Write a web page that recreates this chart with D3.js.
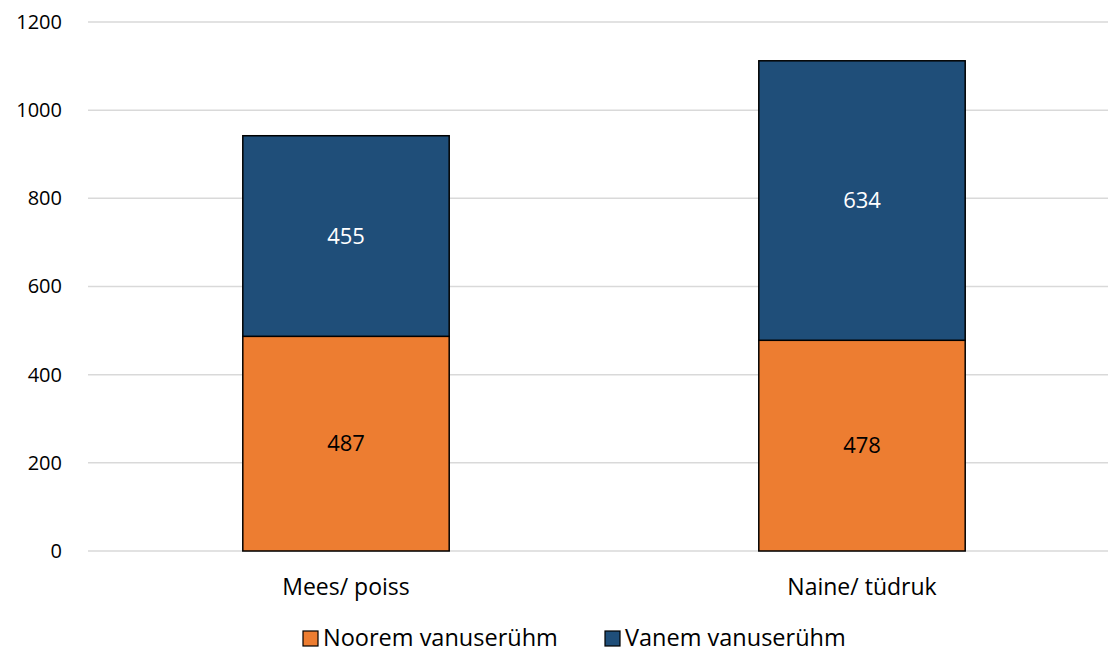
<!DOCTYPE html>
<html>
<head>
<meta charset="utf-8">
<script src="https://cdn.jsdelivr.net/npm/d3@7"></script>
<style>
    body { margin: 0; background: #fff; }
    text { font-family: "Open Sans", "DejaVu Sans", sans-serif; }
</style>
</head>
<body>
<div id="chart"></div>
<script>
// data
var categories = ["Mees/ poiss", "Naine/ tüdruk"];
var seriesNames = ["Noorem vanuserühm", "Vanem vanuserühm"];
var youngerValues = [487, 478];
var olderValues = [455, 634];
var yTicks = [0, 200, 400, 600, 800, 1000, 1200];
var seriesColors = ["#ED7D31", "#1F4E79"];

var vWidth = 1108, vHeight = 652;

var svg = d3.select("#chart")
    .append("svg")
    .attr("width", vWidth)
    .attr("height", vHeight);

var vRows = categories.map(function (aCat, i) {
    return { cat: aCat, young: youngerValues[i], old: olderValues[i] };
});

var vStack = d3.stack().keys(["young", "old"])(vRows);

var vX = d3.scaleBand()
    .domain(categories)
    .range([88, 1120])
    .paddingInner(0.6)
    .paddingOuter(0.3);

var vY = d3.scaleLinear()
    .domain([0, 1200])
    .range([551, 22]);

// gridlines
svg.append("g")
    .selectAll("line")
    .data(yTicks)
    .enter()
    .append("line")
    .attr("x1", 88)
    .attr("x2", vWidth)
    .attr("y1", function (d) { return vY(d); })
    .attr("y2", function (d) { return vY(d); })
    .attr("stroke", "#d9d9d9")
    .attr("stroke-width", 1.5);

// y axis labels
var vYAxis = svg.append("g")
    .attr("transform", "translate(62,0)")
    .call(d3.axisLeft(vY).tickValues(yTicks).tickFormat(d3.format("d")).tickSize(0).tickPadding(0));
vYAxis.select(".domain").remove();
vYAxis.selectAll("text")
    .style("font-family", "\"Open Sans\", sans-serif")
    .style("font-size", "20px")
    .attr("fill", "#000");

// bars
var vLayers = svg.selectAll("g.layer")
    .data(vStack)
    .enter()
    .append("g")
    .attr("class", "layer")
    .attr("fill", function (d, i) { return seriesColors[i]; });

vLayers.selectAll("rect")
    .data(function (d) { return d; })
    .enter()
    .append("rect")
    .attr("x", function (d) { return vX(d.data.cat); })
    .attr("width", vX.bandwidth())
    .attr("y", function (d) { return vY(d[1]); })
    .attr("height", function (d) { return vY(d[0]) - vY(d[1]); })
    .attr("stroke", "#000")
    .attr("stroke-width", 1.5);

// value labels
vLayers.each(function (aLayer, i) {
    d3.select(this).selectAll("text")
        .data(aLayer)
        .enter()
        .append("text")
        .attr("x", function (d) { return vX(d.data.cat) + vX.bandwidth() / 2; })
        .attr("y", function (d) { return vY((d[0] + d[1]) / 2); })
        .attr("dy", "0.35em")
        .attr("text-anchor", "middle")
        .attr("fill", i === 0 ? "#000" : "#fff")
        .style("font-size", "22px")
        .text(function (d) { return d[1] - d[0]; });
});

// category labels
svg.append("g")
    .selectAll("text")
    .data(categories)
    .enter()
    .append("text")
    .attr("x", function (d) { return vX(d) + vX.bandwidth() / 2; })
    .attr("y", 595)
    .attr("text-anchor", "middle")
    .attr("fill", "#000")
    .style("font-size", "23px")
    .text(function (d) { return d; });

// legend
var vLegendX = [303, 605];
var vLegend = svg.append("g")
    .selectAll("g")
    .data(seriesNames)
    .enter()
    .append("g")
    .attr("transform", function (d, i) { return "translate(" + vLegendX[i] + ",631)"; });
vLegend.append("rect")
    .attr("width", 15)
    .attr("height", 15)
    .attr("fill", function (d, i) { return seriesColors[i]; })
    .attr("stroke", "#000")
    .attr("stroke-width", 1.2);
vLegend.append("text")
    .attr("x", 20)
    .attr("y", 7)
    .attr("dy", "0.36em")
    .attr("fill", "#000")
    .style("font-size", "23.5px")
    .text(function (d) { return d; });
</script>
</body>
</html>
